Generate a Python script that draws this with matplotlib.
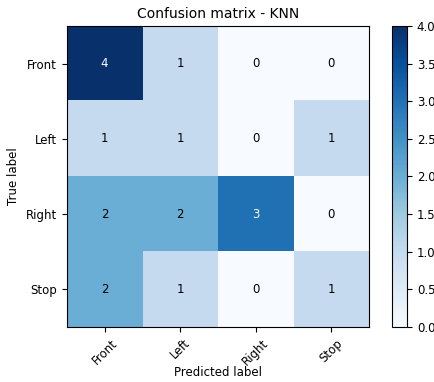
import matplotlib
matplotlib.use('Agg')
import matplotlib.pyplot as plt
import numpy as np

# confusion matrix data
classes = ['Front', 'Left', 'Right', 'Stop']
cm = np.array([[4, 1, 0, 0],
               [1, 1, 0, 1],
               [2, 2, 3, 0],
               [2, 1, 0, 1]])

plt.rcParams['font.size'] = 8.5

fig = plt.figure(figsize=(4.34, 3.82), dpi=100)
ax = fig.add_axes([0.154, 0.144, 0.696, 0.788])
cax = fig.add_axes([0.903, 0.144, 0.035, 0.788])

im = ax.imshow(cm, interpolation='nearest', cmap=plt.cm.Blues, aspect='auto')
ax.set_title('Confusion matrix - KNN', fontsize=10)
cb = fig.colorbar(im, cax=cax)
cb.set_ticks(np.arange(0, 4.01, 0.5))

ticks = np.arange(len(classes))
ax.set_xticks(ticks)
ax.set_xticklabels(classes, rotation=45)
ax.set_yticks(ticks)
ax.set_yticklabels(classes)

thresh = cm.max() / 2.
for i in range(cm.shape[0]):
    for j in range(cm.shape[1]):
        ax.text(j, i, format(cm[i, j], 'd'),
                ha='center', va='center',
                color='white' if cm[i, j] > thresh else 'black')

ax.set_ylabel('True label')
ax.set_xlabel('Predicted label')
ax.xaxis.set_label_coords(0.5, -0.128)

fig.savefig('out.png', dpi=100)
